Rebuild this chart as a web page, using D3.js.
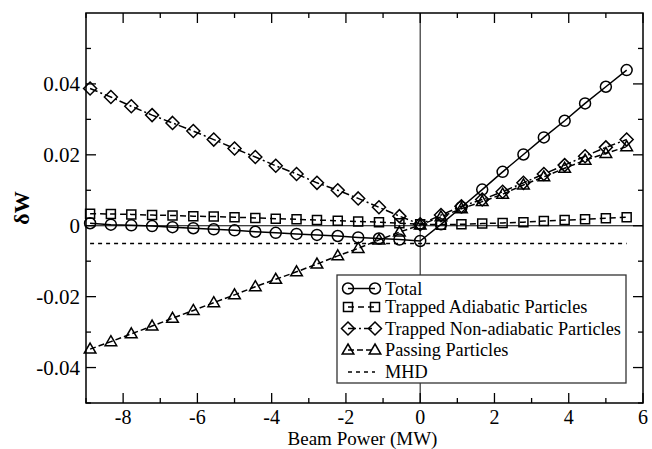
<!DOCTYPE html>
<meta charset="utf-8">
<style>
  body { margin: 0; padding: 0; background: white; }
  svg { background: white; }
</style>
<script src="https://d3js.org/d3.v7.min.js"></script>
<svg id="vis"></svg>
<script>

var width = 652, height = 449;
var margin = {top: 13, right: 9, bottom: 46, left: 86};
var serif = "'Liberation Serif', 'DejaVu Serif', 'Times New Roman', Times, serif";

// beam power (MW)
var power = [-8.89, -8.33, -7.78, -7.22, -6.67, -6.11, -5.56, -5.00, -4.44, -3.89, -3.33, -2.78, -2.22, -1.67, -1.11, -0.56,
             0, 0.56, 1.11, 1.67, 2.22, 2.78, 3.33, 3.89, 4.44, 5.00, 5.56];

var total = [0.0007, 0.0003, 0.0001, -0.0001, -0.0004, -0.0007, -0.0010, -0.0013, -0.0017, -0.0020, -0.0023, -0.0026, -0.0029, -0.0033, -0.0036, -0.0039,
             -0.0043, 0.0004, 0.0052, 0.0102, 0.0152, 0.0201, 0.0249, 0.0296, 0.0345, 0.0392, 0.0439];
var trappedAd = [0.0034, 0.0033, 0.0032, 0.0030, 0.0029, 0.0027, 0.0026, 0.0024, 0.0022, 0.0020, 0.0018, 0.0016, 0.0014, 0.0012, 0.0010, 0.0007,
                 0.0004, 0.0003, 0.0004, 0.0006, 0.0008, 0.0010, 0.0013, 0.0016, 0.0018, 0.0021, 0.0024];
var trappedNonAd = [0.0387, 0.0363, 0.0337, 0.0312, 0.0290, 0.0267, 0.0243, 0.0218, 0.0194, 0.0169, 0.0146, 0.0121, 0.0100, 0.0077, 0.0052, 0.0027,
                    0.0004, 0.0030, 0.0055, 0.0074, 0.0096, 0.0121, 0.0146, 0.0171, 0.0196, 0.0221, 0.0243];
var passing = [-0.0348, -0.0327, -0.0305, -0.0283, -0.0261, -0.0239, -0.0217, -0.0195, -0.0172, -0.0151, -0.0130, -0.0108, -0.0085, -0.0064, -0.0040, -0.0018,
               0.0002, 0.0025, 0.0048, 0.0068, 0.0089, 0.0115, 0.0138, 0.0162, 0.0185, 0.0204, 0.0223];
var mhd = -0.005;

var xMajor = [-8, -6, -4, -2, 0, 2, 4, 6];
var xMinor = [-9, -7, -5, -3, -1, 1, 3, 5];
var yMajor = [-0.04, -0.02, 0, 0.02, 0.04];
var yMinor = [-0.05, -0.03, -0.01, 0.01, 0.03, 0.05];

var series = [
  {name: "Total", values: total, marker: "circle", dash: null},
  {name: "Trapped Adiabatic Particles", values: trappedAd, marker: "square", dash: "6,4"},
  {name: "Trapped Non-adiabatic Particles", values: trappedNonAd, marker: "diamond", dash: "8,3,2,3"},
  {name: "Passing Particles", values: passing, marker: "triangle", dash: "6,3"}
];

var svg = d3.select("svg").attr("width", width).attr("height", height)
  .attr("font-family", serif);

var x = d3.scaleLinear().domain([-9, 6]).range([margin.left, width - margin.right]);
var y = d3.scaleLinear().domain([-0.05, 0.06]).range([height - margin.bottom, margin.top]);

var x0 = x.range()[0], x1 = x.range()[1], y0 = y.range()[0], y1 = y.range()[1];

// zero lines
svg.append("line").attr("x1", x0).attr("x2", x1).attr("y1", y(0)).attr("y2", y(0))
  .attr("stroke", "#000").attr("stroke-width", 1.2);
svg.append("line").attr("x1", x(0)).attr("x2", x(0)).attr("y1", y1).attr("y2", y0)
  .attr("stroke", "#333").attr("stroke-width", 1.2);

// MHD line
svg.append("line").attr("x1", x(power[0])).attr("x2", x(power[power.length - 1]))
  .attr("y1", y(mhd)).attr("y2", y(mhd))
  .attr("stroke", "#000").attr("stroke-width", 1.5).attr("stroke-dasharray", "4,4");

function markerPath(type) {
  if (type == "circle") return "M-5.5,0a5.5,5.5 0 1,0 11,0a5.5,5.5 0 1,0 -11,0Z";
  if (type == "square") return "M-4.5,-4.5H4.5V4.5H-4.5Z";
  if (type == "diamond") return "M0,-6.5L6.5,0L0,6.5L-6.5,0Z";
  if (type == "triangle") return "M0,-6L5.8,4L-5.8,4Z";
}

var line = d3.line().x(function(d) { return x(d[0]); }).y(function(d) { return y(d[1]); });

series.forEach(function(s) {
  var pts = power.map(function(p, i) { return [p, s.values[i]]; });
  svg.append("path").datum(pts)
    .attr("d", line)
    .attr("fill", "none").attr("stroke", "#000").attr("stroke-width", 1.5)
    .attr("stroke-dasharray", s.dash);
  svg.append("g").selectAll("path").data(pts).enter().append("path")
    .attr("d", markerPath(s.marker))
    .attr("transform", function(d) { return "translate(" + x(d[0]) + "," + y(d[1]) + ")"; })
    .attr("fill", "none").attr("stroke", "#000").attr("stroke-width", 1.5);
});

// frame + ticks
svg.append("rect").attr("x", x0).attr("y", y1).attr("width", x1 - x0).attr("height", y0 - y1)
  .attr("fill", "none").attr("stroke", "#000").attr("stroke-width", 1.5);

var ticks = svg.append("g").attr("stroke", "#000").attr("stroke-width", 1.3);
function xt(v, len) {
  ticks.append("line").attr("x1", x(v)).attr("x2", x(v)).attr("y1", y0).attr("y2", y0 - len);
  ticks.append("line").attr("x1", x(v)).attr("x2", x(v)).attr("y1", y1).attr("y2", y1 + len);
}
function yt(v, len) {
  ticks.append("line").attr("y1", y(v)).attr("y2", y(v)).attr("x1", x0).attr("x2", x0 + len);
  ticks.append("line").attr("y1", y(v)).attr("y2", y(v)).attr("x1", x1).attr("x2", x1 - len);
}
xMajor.forEach(function(v) { xt(v, 10); });
xMinor.forEach(function(v) { xt(v, 5); });
yMajor.forEach(function(v) { yt(v, 10); });
yMinor.forEach(function(v) { yt(v, 5); });

function fmt(v) {
  if (v == 0) return "0";
  return (v < 0 ? "-" : "") + d3.format(".2f")(Math.abs(v));
}

svg.append("g").selectAll("text").data(xMajor).enter().append("text")
  .attr("x", function(d) { return x(d); }).attr("y", 423.5)
  .attr("text-anchor", "middle").attr("font-size", 20).attr("font-family", serif)
  .text(function(d) { return (d < 0 ? "-" : "") + Math.abs(d); });

svg.append("g").selectAll("text").data(yMajor).enter().append("text")
  .attr("x", 80).attr("y", function(d) { return y(d) + 7; })
  .attr("text-anchor", "end").attr("font-size", 21).attr("font-family", serif)
  .text(fmt);

svg.append("text").attr("x", (x0 + x1) / 2 - 2).attr("y", 445)
  .attr("text-anchor", "middle").attr("font-size", 19).attr("font-family", serif)
  .text("Beam Power (MW)");

svg.append("text")
  .attr("transform", "translate(29," + ((y0 + y1) / 2) + ") rotate(-90)")
  .attr("text-anchor", "middle").attr("font-size", 22).attr("font-weight", "bold")
  .attr("font-family", serif).text("δW");

// legend
var lg = svg.append("g").attr("transform", "translate(337,275)");
lg.append("rect").attr("width", 289).attr("height", 108)
  .attr("fill", "#fff").attr("stroke", "#333").attr("stroke-width", 1.3);

var rowY = [13.5, 32, 53.5, 75, 97];
series.forEach(function(s, i) {
  var ry = rowY[i];
  lg.append("line").attr("x1", 11).attr("x2", 38).attr("y1", ry).attr("y2", ry)
    .attr("stroke", "#000").attr("stroke-width", 1.5).attr("stroke-dasharray", s.dash);
  [11, 38].forEach(function(mx) {
    lg.append("path").attr("d", markerPath(s.marker))
      .attr("transform", "translate(" + mx + "," + ry + ")")
      .attr("fill", "none").attr("stroke", "#000").attr("stroke-width", 1.5);
  });
  lg.append("text").attr("x", 48).attr("y", ry + 6).attr("font-size", 18.3)
    .attr("font-family", serif).text(s.name);
});
lg.append("line").attr("x1", 11).attr("x2", 38).attr("y1", rowY[4]).attr("y2", rowY[4])
  .attr("stroke", "#000").attr("stroke-width", 1.5).attr("stroke-dasharray", "4,4");
lg.append("text").attr("x", 48).attr("y", rowY[4] + 6).attr("font-size", 18.3)
  .attr("font-family", serif).text("MHD");

</script>
